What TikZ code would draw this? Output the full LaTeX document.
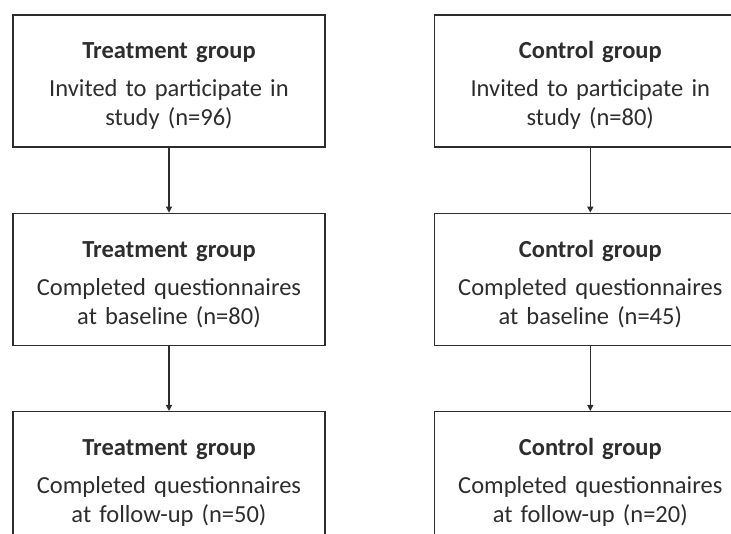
\documentclass[tikz,border=0pt]{standalone}
\usepackage{fontspec}
\setmainfont{Carlito}
\usepackage{tikz}
\usetikzlibrary{positioning}
\usetikzlibrary{calc}
\usetikzlibrary{arrows.meta}

\definecolor{boxline}{RGB}{45,45,45}
\definecolor{boxtext}{RGB}{45,45,45}

\newcommand{\boxtitle}[1]{\rule{0pt}{26pt}\textbf{#1}}

\tikzset{
	groupbox/.style={
		draw=boxline,
		line width=1.3pt,
		text=boxtext,
		align=center,
		text width=300pt,
		minimum width=312pt,
		minimum height=132pt,
		font=\fontsize{24.5}{29}\selectfont
	},
	flow/.style={
		draw=boxline,
		line width=1.4pt,
		-{Triangle[length=6pt,width=6pt]}
	}
}

\begin{document}
\begin{tikzpicture}

% visible part of the chart
\coordinate (frame) at (-169pt,81pt);
\useasboundingbox (frame) rectangle ++(731pt,-533pt);

\node[groupbox] (treatInvite) {\boxtitle{Treatment group}\\[9pt]
	Invited to participate in\\ study (n=96)};

\node[
	groupbox,
	right=108pt of treatInvite
] (ctrlInvite) {\boxtitle{Control group}\\[9pt]
	Invited to participate in\\ study (n=80)};

\node[
	groupbox,
	below=65pt of treatInvite
] (treatBase) {\boxtitle{Treatment group}\\[9pt]
	Completed questionnaires\\ at baseline (n=80)};

\node[
	groupbox,
	below=65pt of ctrlInvite
] (ctrlBase) {\boxtitle{Control group}\\[9pt]
	Completed questionnaires\\ at baseline (n=45)};

\node[
	groupbox,
	below=65pt of treatBase
] (treatFollow) {\boxtitle{Treatment group}\\[9pt]
	Completed questionnaires\\ at follow-up (n=50)};

\node[
	groupbox,
	below=65pt of ctrlBase
] (ctrlFollow) {\boxtitle{Control group}\\[9pt]
	Completed questionnaires\\ at follow-up (n=20)};

% ---

\draw[flow] (treatInvite.south) -- (treatBase.north);
\draw[flow] (treatBase.south) -- (treatFollow.north);
\draw[flow] (ctrlInvite.south) -- (ctrlBase.north);
\draw[flow] (ctrlBase.south) -- (ctrlFollow.north);

\end{tikzpicture}
\end{document}
